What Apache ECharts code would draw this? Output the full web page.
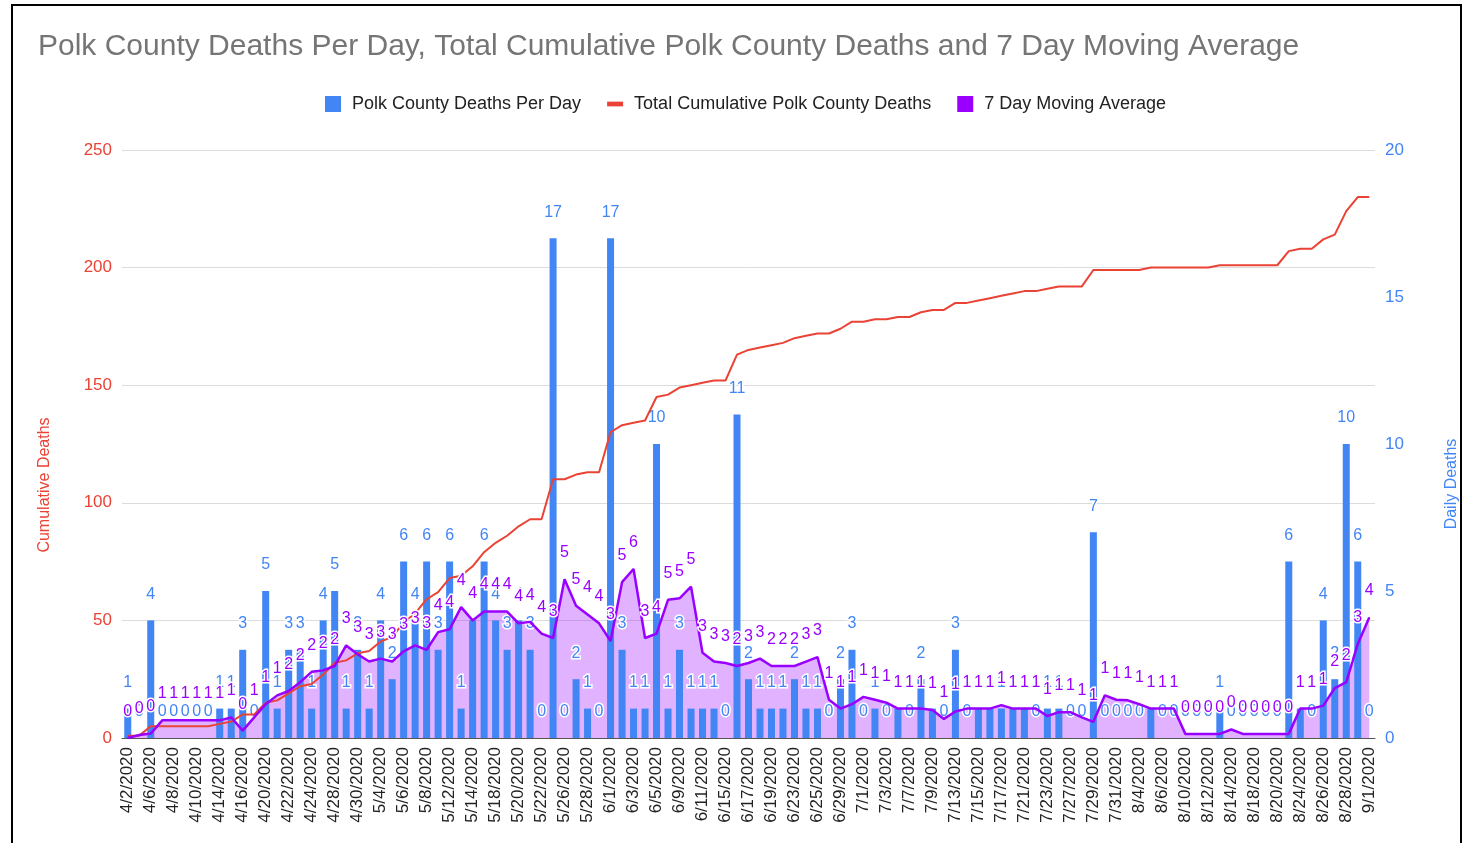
<!DOCTYPE html>
<html>
<head>
<meta charset="utf-8">
<script src="https://cdn.jsdelivr.net/npm/echarts@6/dist/echarts.min.js"></script>
<style>
  html, body { margin:0; padding:0; background:#fff; }
  #chart { position:absolute; left:0; top:0; width:1463px; height:843px; }
  #frame { position:absolute; left:11px; top:4px; width:1447px; height:850px;
           border-left:2px solid #000; border-top:2px solid #000; border-right:2px solid #000;
           pointer-events:none; z-index:5; }
</style>
</head>
<body>
<div id="chart"></div>
<div id="frame"></div>
<script>
const chartTitle = 'Polk County Deaths Per Day, Total Cumulative Polk County Deaths and 7 Day Moving Average';
const seriesNames = ['Polk County Deaths Per Day', 'Total Cumulative Polk County Deaths', '7 Day Moving Average'];
const axisNames = ['Cumulative Deaths', 'Daily Deaths'];

const dates = [
  '4/2/2020','4/3/2020','4/6/2020','4/7/2020','4/8/2020','4/9/2020','4/10/2020','4/13/2020','4/14/2020','4/15/2020',
  '4/16/2020','4/17/2020','4/20/2020','4/21/2020','4/22/2020','4/23/2020','4/24/2020','4/27/2020','4/28/2020','4/29/2020',
  '4/30/2020','5/1/2020','5/4/2020','5/5/2020','5/6/2020','5/7/2020','5/8/2020','5/11/2020','5/12/2020','5/13/2020',
  '5/14/2020','5/15/2020','5/18/2020','5/19/2020','5/20/2020','5/21/2020','5/22/2020','5/25/2020','5/26/2020','5/27/2020',
  '5/28/2020','5/29/2020','6/1/2020','6/2/2020','6/3/2020','6/4/2020','6/5/2020','6/8/2020','6/9/2020','6/10/2020',
  '6/11/2020','6/12/2020','6/15/2020','6/16/2020','6/17/2020','6/18/2020','6/19/2020','6/22/2020','6/23/2020','6/24/2020',
  '6/25/2020','6/26/2020','6/29/2020','6/30/2020','7/1/2020','7/2/2020','7/3/2020','7/6/2020','7/7/2020','7/8/2020',
  '7/9/2020','7/10/2020','7/13/2020','7/14/2020','7/15/2020','7/16/2020','7/17/2020','7/20/2020','7/21/2020','7/22/2020',
  '7/23/2020','7/24/2020','7/27/2020','7/28/2020','7/29/2020','7/30/2020','7/31/2020','8/3/2020','8/4/2020','8/5/2020',
  '8/6/2020','8/7/2020','8/10/2020','8/11/2020','8/12/2020','8/13/2020','8/14/2020','8/17/2020','8/18/2020','8/19/2020',
  '8/20/2020','8/21/2020','8/24/2020','8/25/2020','8/26/2020','8/27/2020','8/28/2020','8/31/2020','9/1/2020'
];

const dailyDeaths = [
  1,0,4,0,0,0,0,0,1,1,
  3,0,5,1,3,3,1,4,5,1,
  3,1,4,2,6,4,6,3,6,1,
  4,6,4,3,4,3,0,17,0,2,
  1,0,17,3,1,1,10,1,3,1,
  1,1,0,11,2,1,1,1,2,1,
  1,0,2,3,0,1,0,1,0,2,
  1,0,3,0,1,1,1,1,1,0,
  1,1,0,0,7,0,0,0,0,1,
  0,0,0,0,0,1,0,0,0,0,
  0,6,1,0,4,2,10,6,0
];

const cumulativeDeaths = [
  1,1,5,5,5,5,5,5,6,7,
  10,10,15,16,19,22,23,27,32,33,
  36,37,41,43,49,53,59,62,68,69,
  73,79,83,86,90,93,93,110,110,112,
  113,113,130,133,134,135,145,146,149,150,
  151,152,152,163,165,166,167,168,170,171,
  172,172,174,177,177,178,178,179,179,181,
  182,182,185,185,186,187,188,189,190,190,
  191,192,192,192,199,199,199,199,199,200,
  200,200,200,200,200,201,201,201,201,201,
  201,207,208,208,212,214,224,230,230
];

const movingAverage = [
  0,0.1,0.15,0.6,0.6,0.6,0.6,0.6,0.6,0.7,
  0.25,0.7,1.15,1.45,1.6,1.9,2.25,2.3,2.45,3.15,
  2.85,2.6,2.7,2.6,2.95,3.15,3.0,3.6,3.7,4.45,
  4.0,4.3,4.3,4.3,3.9,3.95,3.55,3.4,5.4,4.5,
  4.2,3.9,3.3,5.3,5.75,3.4,3.55,4.7,4.75,5.15,
  2.9,2.6,2.55,2.45,2.55,2.7,2.45,2.45,2.45,2.6,
  2.75,1.3,1.0,1.15,1.4,1.3,1.2,1.0,1.0,1.0,
  0.95,0.65,0.9,1.0,1.0,1.0,1.12,1.0,1.0,1.0,
  0.75,0.88,0.88,0.7,0.55,1.45,1.3,1.28,1.15,1.0,
  1.0,1.0,0.14,0.14,0.14,0.14,0.29,0.14,0.14,0.14,
  0.14,0.14,1.0,1.0,1.1,1.7,1.9,3.2,4.1
];

const leftAxisTicks = [0, 50, 100, 150, 200, 250];
const rightAxisTicks = [0, 5, 10, 15, 20];

const BLUE = '#4285f4', RED = '#ea4335', PURPLE = '#9900ff';
const FONT = "'Liberation Sans', Arial, sans-serif";

const chart = echarts.init(document.getElementById('chart'), null, { renderer: 'canvas' });

const labelCommon = {
  show: true, position: 'top', distance: 18, fontSize: 16, fontFamily: FONT,
  textBorderColor: '#fff', textBorderWidth: 3
};

chart.setOption({
  backgroundColor: '#fff',
  animation: false,
  textStyle: { fontFamily: FONT },
  title: {
    text: chartTitle, left: 33, top: 27,
    textStyle: { fontSize: 30, fontWeight: 'normal', color: '#757575', fontFamily: FONT }
  },
  legend: {
    left: 320, top: 90, itemGap: 26, itemWidth: 16, itemHeight: 16,
    textStyle: { fontSize: 18, color: '#222', fontFamily: FONT, padding: [0, 0, 0, 6] },
    data: [
      { name: seriesNames[0], icon: 'rect' },
      { name: seriesNames[1], icon: 'path://M0,0h17v5h-17z' },
      { name: seriesNames[2], icon: 'rect' }
    ]
  },
  grid: { left: 122, right: 88, top: 150, bottom: 105, containLabel: false },
  xAxis: {
    type: 'category', data: dates, boundaryGap: true,
    axisLine: { lineStyle: { color: '#555', width: 1 } },
    axisTick: { show: false },
    axisLabel: { interval: 1, rotate: 90, fontSize: 17, color: '#222', margin: 9, fontFamily: FONT }
  },
  yAxis: [
    {
      type: 'value', min: leftAxisTicks[0], max: leftAxisTicks[leftAxisTicks.length - 1], interval: 50,
      axisLine: { show: false }, axisTick: { show: false },
      splitLine: { lineStyle: { color: '#dcdcdc', width: 1 } },
      axisLabel: { color: RED, fontSize: 17, margin: 10, fontFamily: FONT }
    },
    {
      type: 'value', min: rightAxisTicks[0], max: rightAxisTicks[rightAxisTicks.length - 1], interval: 5,
      axisLine: { show: false }, axisTick: { show: false }, splitLine: { show: false },
      axisLabel: { color: BLUE, fontSize: 17, margin: 10, fontFamily: FONT }
    }
  ],
  graphic: [
    { type: 'text', x: 45, y: 485, rotation: Math.PI / 2,
      style: { text: axisNames[0], fill: RED, fontSize: 16, fontFamily: FONT, align: 'center', verticalAlign: 'middle' } },
    { type: 'text', x: 1452, y: 484, rotation: Math.PI / 2,
      style: { text: axisNames[1], fill: BLUE, fontSize: 16, fontFamily: FONT, align: 'center', verticalAlign: 'middle' } }
  ],
  series: [
    {
      name: seriesNames[2], type: 'line', yAxisIndex: 1, data: movingAverage,
      symbol: 'none', silent: true, z: 1,
      itemStyle: { color: PURPLE },
      lineStyle: { width: 0 },
      areaStyle: { color: PURPLE, opacity: 0.3 }
    },
    {
      name: seriesNames[0], type: 'bar', yAxisIndex: 1, data: dailyDeaths,
      barWidth: 7, z: 2,
      itemStyle: { color: BLUE },
      label: Object.assign({}, labelCommon, { color: BLUE })
    },
    {
      name: seriesNames[1], type: 'line', yAxisIndex: 0, data: cumulativeDeaths,
      symbol: 'none', z: 3,
      itemStyle: { color: RED },
      lineStyle: { color: RED, width: 2 }
    },
    {
      name: seriesNames[2], type: 'line', yAxisIndex: 1, data: movingAverage,
      symbol: 'circle', symbolSize: 1, showSymbol: true, z: 4,
      itemStyle: { color: PURPLE },
      lineStyle: { color: PURPLE, width: 2.5 },
      label: Object.assign({}, labelCommon, {
        color: PURPLE,
        formatter: p => String(Math.round(p.value))
      })
    }
  ]
});
</script>
</body>
</html>
